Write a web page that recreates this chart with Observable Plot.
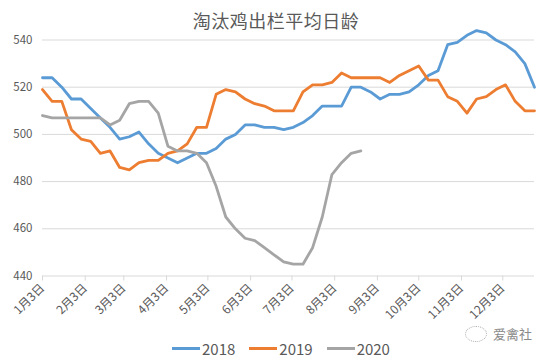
<!DOCTYPE html>
<html><head><meta charset="utf-8">
<script src="https://cdn.jsdelivr.net/npm/d3@7"></script>
<script src="https://cdn.jsdelivr.net/npm/@observablehq/plot@0.6"></script>
<style>
body{margin:0;background:#fff;}
#wrap{position:relative;width:552px;height:360px;overflow:hidden;font-family:"Noto Sans CJK SC","Noto Sans",sans-serif;background:#fff;}
#chart{position:absolute;top:0;left:0;}
#title{position:absolute;top:7px;left:0;width:552px;text-align:center;font-size:18px;color:#595959;letter-spacing:0.5px;}
#legend{position:absolute;top:338px;left:172px;display:flex;align-items:center;font-size:15px;color:#595959;}
#legend .item{display:flex;align-items:center;margin-right:14px;}
#legend .sw{width:28px;height:3px;margin-right:2px;}
#mark{position:absolute;left:465px;top:324px;font-size:13px;color:#8a8a8a;display:flex;align-items:center;}
#mark .ic{width:20px;height:14px;border:1px dotted #aaa;border-radius:50%;margin-right:6px;}
</style>
</head><body>
<div id="wrap">
  <div id="chart"></div>
  <div id="title">淘汰鸡出栏平均日龄</div>
  <div id="legend"></div>
  <div id="mark"><span class="ic"></span>爱禽社</div>
</div>
<script>
const seriesNames = ["2018", "2019", "2020"];
const seriesColors = ["#5B9BD5", "#ED7D31", "#A5A5A5"];
const tickLabels = ["1月3日","2月3日","3月3日","4月3日","5月3日","6月3日","7月3日","8月3日","9月3日","10月3日","11月3日","12月3日"];
const yTicks = [440, 460, 480, 500, 520, 540];

const values2018 = [524,524,520,515,515,511,507,503,498,499,501,496,492,490,488,490,492,492,494,498,500,504,504,503,503,502,503,505,508,512,512,512,520,520,518,515,517,517,518,521,525,527,538,539,542,544,543,540,538,535,530,520];
const values2019 = [519,514,514,502,498,497,492,493,486,485,488,489,489,492,493,496,503,503,517,519,518,515,513,512,510,510,510,518,521,521,522,526,524,524,524,524,522,525,527,529,523,523,516,514,509,515,516,519,521,514,510,510];
const values2020 = [508,507,507,507,507,507,507,504,506,513,514,514,509,495,493,493,492,488,478,465,460,456,455,452,449,446,445,445,452,465,483,488,492,493];

const start = Date.UTC(2019, 0, 3);
const weekDate = i => new Date(start + i * 7 * 86400000);
const allSeries = [values2018, values2019, values2020];
const data = [];
allSeries.forEach((vals, s) => vals.forEach((v, i) => data.push({series: seriesNames[s], date: weekDate(i), value: v})));
const tickDates = tickLabels.map((_, m) => new Date(Date.UTC(2019, m, 3)));

const plot = Plot.plot({
  width: 552,
  height: 345,
  marginLeft: 42,
  marginRight: 18,
  marginTop: 15.9,
  marginBottom: 69.5,
  style: {fontFamily: '"Noto Sans CJK SC","Noto Sans",sans-serif', fontSize: "11.5px", color: "#595959", background: "transparent"},
  x: {type: "utc", domain: [weekDate(0), weekDate(51)]},
  y: {domain: [440, 550]},
  color: {domain: seriesNames, range: seriesColors},
  marks: [
    Plot.gridY(yTicks, {stroke: "#d9d9d9", strokeOpacity: 1}),
    Plot.axisY({ticks: yTicks, tickSize: 0, tickPadding: 10, label: null, fill: "#595959"}),
    Plot.axisX({ticks: tickDates, tickFormat: d => tickLabels[d.getUTCMonth()], tickRotate: -45, tickSize: 5, stroke: "#d9d9d9", tickPadding: 5, label: null, fill: "#595959", fontSize: "12px"}),
    Plot.line(data, {x: "date", y: "value", z: "series", stroke: "series", strokeWidth: 2.8, strokeLinejoin: "round", strokeLinecap: "round"})
  ]
});
document.getElementById("chart").appendChild(plot);

const legend = document.getElementById("legend");
seriesNames.forEach((n, i) => {
  const item = document.createElement("div");
  item.className = "item";
  const sw = document.createElement("span");
  sw.className = "sw";
  sw.style.background = seriesColors[i];
  const t = document.createElement("span");
  t.textContent = n;
  item.appendChild(sw); item.appendChild(t);
  legend.appendChild(item);
});
</script>
</body></html>
